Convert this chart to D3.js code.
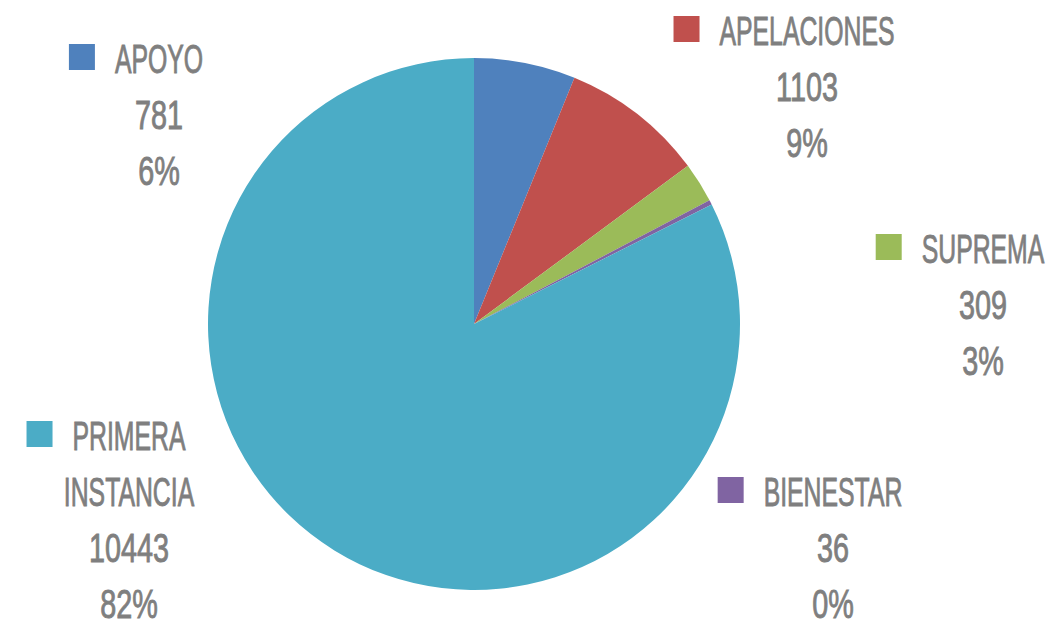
<!DOCTYPE html>
<html>
<head>
<meta charset="utf-8">
<script src="https://d3js.org/d3.v7.min.js"></script>
<style>
  body { margin: 0; background: #fff; }
</style>
</head>
<body>
<svg id="vis"></svg>
<script>
  var categories = ['APOYO', 'APELACIONES', 'SUPREMA', 'BIENESTAR', 'PRIMERA INSTANCIA'];
  var values = [781, 1103, 309, 36, 10443];
  var percents = ['6%', '9%', '3%', '0%', '82%'];
  var colors = ['#4F81BD', '#C0504D', '#9BBB59', '#8064A2', '#4BACC6'];
  // label block: name lines (wrapped), value, percent
  var nameLines = [['APOYO'], ['APELACIONES'], ['SUPREMA'], ['BIENESTAR'], ['PRIMERA', 'INSTANCIA']];

  var width = 1050, height = 627;
  var cx = 474, cy = 324, radius = 266;

  var svg = d3.select('#vis')
      .attr('width', width)
      .attr('height', height);

  var pie = d3.pie().sort(null).value(function(d) { return d; });
  var arc = d3.arc().innerRadius(0).outerRadius(radius);

  var g = svg.append('g').attr('transform', 'translate(' + cx + ',' + cy + ')');

  g.selectAll('path')
      .data(pie(values))
      .enter().append('path')
      .attr('d', arc)
      .attr('fill', function(d, i) { return colors[i]; });

  // label anchors: center x of text, baseline of first line
  var labelPos = [
      {x: 159, y: 73},
      {x: 807, y: 45},
      {x: 983, y: 263},
      {x: 833, y: 506},
      {x: 129, y: 450}
  ];
  var lineH = 56;

  var labels = svg.selectAll('g.label')
      .data(categories)
      .enter().append('g')
      .attr('class', 'label');

  labels.each(function(name, i) {
      var el = d3.select(this);
      var p = labelPos[i];
      var lines = nameLines[i].concat([String(values[i]), percents[i]]);
      lines.forEach(function(txt, j) {
          var isName = j < nameLines[i].length;
          var sx = isName ? 0.62 : 0.72;
          var t = el.append('text')
              .attr('transform', 'translate(' + p.x + ',' + (p.y + j * lineH) + ') scale(' + sx + ',1)')
              .attr('text-anchor', 'middle')
              .attr('font-family', 'Liberation Sans, Arial, sans-serif')
              .attr('font-size', 40)
              .attr('fill', '#7F7F7F')
              .attr('stroke', '#7F7F7F')
              .attr('stroke-width', 0.9)
              .text(txt);
          if (j === 0) {
              var w = t.node().getComputedTextLength() * sx;
              el.append('rect')
                  .attr('x', p.x - w / 2 - 46)
                  .attr('y', p.y - 29)
                  .attr('width', 26)
                  .attr('height', 26)
                  .attr('fill', colors[i]);
          }
      });
  });
</script>
</body>
</html>
